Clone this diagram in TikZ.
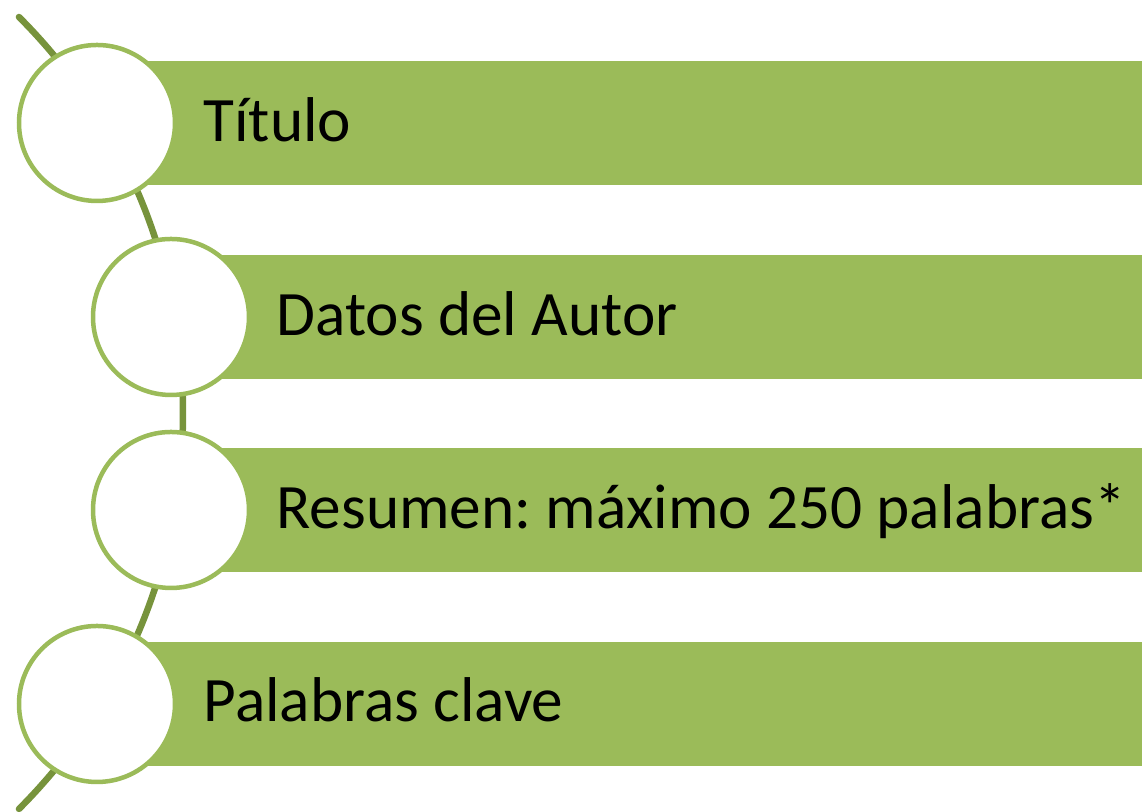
\documentclass[tikz,border=0pt]{standalone}
\usepackage{fontspec}
\setmainfont{Carlito}
\frenchspacing
\definecolor{barra}{HTML}{9BBB59}
\definecolor{linea}{HTML}{77933C}

\begin{document}
\begin{tikzpicture}[
    circulo/.style={circle,draw=barra,line width=0.045cm,fill=white,minimum size=1.56cm,inner sep=0pt},
    texto/.style={anchor=base west,inner sep=0pt,font=\fontsize{18}{22}\selectfont}]
      \useasboundingbox (0,0) rectangle (11.42,8.12);
      % linea curva de fondo
      \draw[linea,line width=0.065cm,line cap=round] (-3.77,3.99) ++(45:5.6) arc[start angle=45,end angle=-45,radius=5.6];
      % barras
      \fill[barra] (0.97,6.27) rectangle (11.42,7.51);
      \fill[barra] (1.71,4.33) rectangle (11.42,5.57);
      \fill[barra] (1.71,2.40) rectangle (11.42,3.64);
      \fill[barra] (0.97,0.46) rectangle (11.42,1.70);
      % circulos
      \node[circulo] (c1) at (0.97,6.89) {};
      \node[circulo] (c2) at (1.71,4.95) {};
      \node[circulo] (c3) at (1.71,3.02) {};
      \node[circulo] (c4) at (0.97,1.08) {};
      % textos
      \node[texto] (titulo) at (2.03,6.70) {Título};
      \node[texto] (autor) at (2.76,4.76) {Datos del Autor};
      \node[texto] (resumen) at (2.76,2.83) {Resumen: máximo 250 palabras*};
      \node[texto] (clave) at (2.03,0.90) {Palabras clave};
\end{tikzpicture}
\end{document}
